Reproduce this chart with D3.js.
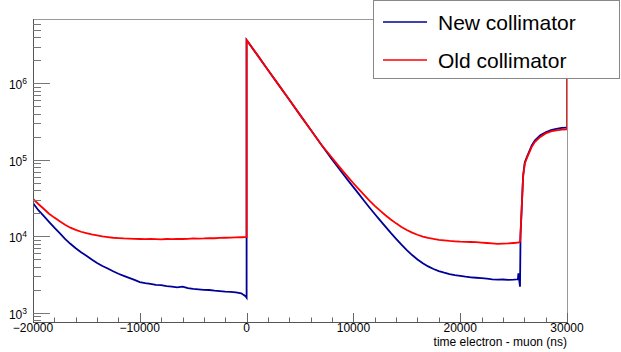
<!DOCTYPE html>
<html>
<head>
<meta charset="utf-8">
<script src="https://cdn.jsdelivr.net/npm/d3@7"></script>
<style>
  html, body { margin: 0; padding: 0; background: #fff; }
  svg { display: block; font-family: "Liberation Sans", Arial, Helvetica, sans-serif; }
</style>
</head>
<body>
<svg id="chart" width="621" height="352"></svg>
<script>
// time bins (ns); repeated entries mark the vertical jumps of the histograms
const timeNs = [
  -20000, -19500, -19000, -18500, -18000, -17500, -17000, -16500, -16000, -15500,
  -15000, -14500, -14000, -13500, -13000, -12500, -12000, -11500, -11000, -10500,
  -10000, -9500, -9000, -8500, -8000, -7500, -7000, -6500, -6000, -5500,
  -5000, -4500, -4000, -3500, -3000, -2500, -2000, -1500, -1000, -500,
  -100, 0, 0, 1000, 2000, 3000, 4000, 5000, 6000, 7000,
  8000, 8500, 9000, 9500, 10000, 10500, 11000, 11500, 12000, 12500,
  13000, 13500, 14000, 14500, 15000, 15500, 16000, 16500, 17000, 17500,
  18000, 18500, 19000, 19500, 20000, 20500, 21000, 21500, 22000, 22500,
  23000, 23500, 24000, 24500, 25000, 25400, 25450, 25600, 25650, 25750,
  25850, 25900, 26050, 26250, 26700, 27000, 27500, 28000, 28500, 29000,
  29500, 30000, 30000
];

// counts per bin
const newCollimator = [
  27300, 22000, 18500, 15500, 13000, 11000, 9300, 8000, 7000, 6200,
  5600, 5000, 4500, 4100, 3800, 3500, 3250, 3050, 2870, 2700,
  2520, 2450, 2400, 2330, 2300, 2240, 2200, 2150, 2200, 2100,
  2060, 2030, 2000, 1990, 1950, 1930, 1900, 1880, 1850, 1800,
  1650, 1580, 3700000, 2360000, 1500000, 957000, 610000, 388000, 248000, 158000,
  101000, 82000, 66500, 54000, 44000, 36000, 29300, 23900, 19600, 16200,
  13400, 11100, 9300, 7800, 6600, 5700, 5000, 4450, 4050, 3750,
  3520, 3360, 3220, 3120, 3040, 2970, 2920, 2880, 2850, 2800,
  2750, 2720, 2730, 2700, 2720, 2750, 3300, 2200, 10500, 22000,
  46000, 64000, 93000, 110000, 155000, 180000, 210000, 230000, 245000, 255000,
  262000, 265000, 265000
];

const oldCollimator = [
  30800, 26500, 23000, 19800, 17600, 15800, 14200, 13000, 12200, 11500,
  11000, 10600, 10300, 10000, 9800, 9600, 9500, 9400, 9350, 9300,
  9250, 9200, 9250, 9200, 9150, 9250, 9200, 9300, 9250, 9300,
  9400, 9350, 9400, 9500, 9450, 9550, 9600, 9650, 9700, 9750,
  9800, 9800, 3700000, 2360000, 1500000, 957000, 610000, 388000, 248000, 158000,
  106500, 87500, 72000, 59500, 49500, 41500, 34800, 29400, 25100, 21700,
  18900, 16600, 14800, 13300, 12100, 11200, 10500, 9950, 9550, 9250,
  9020, 8860, 8720, 8620, 8540, 8500, 8450, 8400, 8300, 8200,
  8100, 8000, 8050, 8100, 8200, 8300, 8300, 8500, 11000, 22000,
  45000, 62000, 90000, 106000, 148000, 172000, 200000, 222000, 236000, 243000,
  248000, 250000, 2000000
];

const xTicks = [-20000, -10000, 0, 10000, 20000, 30000];
const yDecades = [3, 4, 5, 6];

const series = [
  { name: 'New collimator', values: newCollimator, color: '#000099' },
  { name: 'Old collimator', values: oldCollimator, color: '#ff0000' },
];

const margin = { top: 19, right: 54, bottom: 30, left: 33 };
const width = 621;
const height = 352;
const plotRight = width - margin.right;
const plotBottom = height - margin.bottom;

const svg = d3.select('#chart');

const x = d3.scaleLinear()
  .domain([-20000, 30000])
  .range([margin.left, plotRight]);

const y = d3.scaleLog()
  .domain([760, 6.95e6])
  .range([plotBottom, margin.top]);

// clip so the curves stay inside the frame
svg.append('defs').append('clipPath')
  .attr('id', 'plot-clip')
  .append('rect')
  .attr('x', margin.left)
  .attr('y', margin.top)
  .attr('width', plotRight - margin.left)
  .attr('height', plotBottom - margin.top);

// Frame (top and right edges)
svg.append('path')
  .attr('d', `M${margin.left},${margin.top + 0.5}H${plotRight + 0.5}V${plotBottom}`)
  .attr('fill', 'none')
  .attr('stroke', '#999')
  .attr('stroke-width', 1);

// Curves
const line = d3.line()
  .x((d, i) => x(timeNs[i]))
  .y((d) => y(d));

svg.append('g')
  .attr('clip-path', 'url(#plot-clip)')
  .selectAll('path')
  .data(series)
  .join('path')
  .attr('fill', 'none')
  .attr('stroke', (d) => d.color)
  .attr('stroke-width', 1.8)
  .attr('d', (d) => line(d.values));

// X axis: ticks pointing up into the frame
const xMinor = d3.range(-20000, 30001, 2000);
const xAxis = svg.append('g');
xAxis.append('line')
  .attr('x1', margin.left).attr('x2', plotRight + 1)
  .attr('y1', plotBottom + 0.5).attr('y2', plotBottom + 0.5)
  .attr('stroke', '#555');
xAxis.selectAll('line.tick')
  .data(xMinor)
  .join('line')
  .attr('class', 'tick')
  .attr('x1', (d) => Math.round(x(d)) + 0.5)
  .attr('x2', (d) => Math.round(x(d)) + 0.5)
  .attr('y1', plotBottom)
  .attr('y2', (d) => plotBottom - (d % 10000 === 0 ? 9 : 4.5))
  .attr('stroke', '#666');
xAxis.selectAll('text')
  .data(xTicks)
  .join('text')
  .attr('x', (d) => x(d))
  .attr('y', plotBottom + 10)
  .attr('text-anchor', 'middle')
  .attr('font-size', 12)
  .attr('fill', '#000')
  .text((d) => (d < 0 ? '\u2212' + Math.abs(d) : d));
xAxis.append('text')
  .attr('x', plotRight)
  .attr('y', plotBottom + 24)
  .attr('text-anchor', 'end')
  .attr('font-size', 12)
  .attr('fill', '#000')
  .text('time electron - muon (ns)');

// Y axis (log): ticks pointing right into the frame
const [yLo, yHi] = y.domain();
const yMinor = [];
for (let e = 2; e <= 6; e++) {
  for (let m = 1; m <= 9; m++) {
    const v = m * Math.pow(10, e);
    if (v >= yLo && v <= yHi) yMinor.push({ v, major: m === 1 });
  }
}
const yAxis = svg.append('g');
yAxis.append('line')
  .attr('x1', margin.left + 0.5).attr('x2', margin.left + 0.5)
  .attr('y1', margin.top).attr('y2', plotBottom + 1)
  .attr('stroke', '#555');
yAxis.selectAll('line.tick')
  .data(yMinor)
  .join('line')
  .attr('class', 'tick')
  .attr('x1', margin.left)
  .attr('x2', (d) => margin.left + (d.major ? 17 : 8))
  .attr('y1', (d) => Math.round(y(d.v)) + 0.5)
  .attr('y2', (d) => Math.round(y(d.v)) + 0.5)
  .attr('stroke', '#777');
const yLabel = yAxis.selectAll('text')
  .data(yDecades)
  .join('text')
  .attr('x', 27)
  .attr('y', (d) => y(Math.pow(10, d)) + 6)
  .attr('text-anchor', 'end')
  .attr('font-size', 12)
  .attr('fill', '#000');
yLabel.append('tspan').text('10');
yLabel.append('tspan')
  .attr('font-size', 8.5)
  .attr('dy', -5)
  .text((d) => d);

// Legend
const legend = svg.append('g');
legend.append('rect')
  .attr('x', 373.5).attr('y', 0.5)
  .attr('width', 246).attr('height', 78)
  .attr('fill', '#fff')
  .attr('stroke', '#888');
const item = legend.selectAll('g.item')
  .data(series)
  .join('g')
  .attr('class', 'item')
  .attr('transform', (d, i) => `translate(0,${22 + i * 38})`);
item.append('line')
  .attr('x1', 383).attr('x2', 427)
  .attr('y1', 0).attr('y2', 0)
  .attr('stroke', (d) => d.color)
  .attr('stroke-width', 1.5);
item.append('text')
  .attr('x', 438)
  .attr('y', 7.5)
  .attr('font-size', 21)
  .attr('fill', '#000')
  .text((d) => d.name);
</script>
</body>
</html>
